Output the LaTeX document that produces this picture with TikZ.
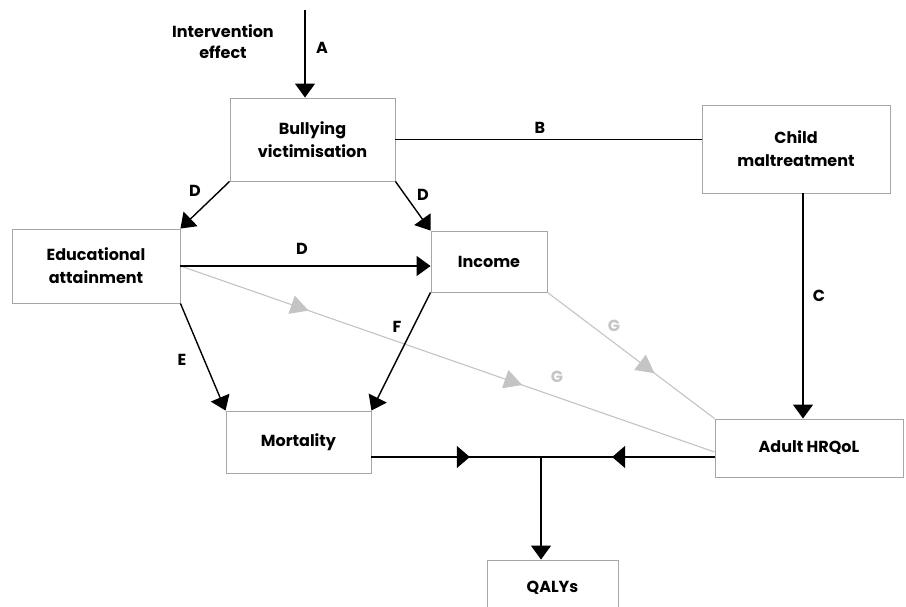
\documentclass[tikz,border=0pt]{standalone}
\usepackage{fontspec}
\setmainfont{Poppins}
\usetikzlibrary{arrows.meta,decorations.markings}
\definecolor{boxgray}{HTML}{A6A6A6}
\definecolor{linegray}{HTML}{C4C4C4}
\tikzset{
  gtip/.tip={Triangle[width=19pt,length=18pt,color=linegray]},
  btip/.tip={Triangle[width=22pt,length=13pt]}
}
\begin{document}
\begin{tikzpicture}[x=1pt,y=-1pt,
  box/.style={draw=boxgray,line width=0.9pt,inner sep=0pt,align=center,
    font=\fontsize{16}{23}\selectfont\bfseries},
  lbl/.style={font=\fontsize{16}{19}\selectfont\bfseries,inner sep=0pt},
  glbl/.style={lbl,text=linegray},
  conn/.style={line width=1.4pt,-{Triangle[width=20pt,length=14pt]}},
  plain/.style={line width=1.4pt},
  gconn/.style={line width=1.1pt,draw=linegray}
]
\useasboundingbox (0,0) rectangle (906,607);
\fill[white] (0,0) rectangle (906,607);

\node[box,minimum width=165pt,minimum height=83pt] (bull) at (312.5,139.5) {Bullying\\victimisation};
\node[box,minimum width=188pt,minimum height=88pt] (cm) at (796,149) {Child\\maltreatment};
\node[box,minimum width=168pt,minimum height=74pt] (edu) at (96,266) {Educational\\attainment};
\node[box,minimum width=116pt,minimum height=61pt] (inc) at (489,261.5) {Income};
\node[box,minimum width=145pt,minimum height=62pt] (mort) at (298.5,442) {Mortality};
\node[box,minimum width=188pt,minimum height=58pt] (hr) at (809,448) {Adult HRQoL};
\node[box,minimum width=131pt,minimum height=56pt] (q) at (552.5,588) {QALYs};

\node[lbl,align=center,font=\fontsize{16}{21}\selectfont\bfseries] (ie) at (223,42) {Intervention\\effect};

\coordinate (atop) at (305,10);
\coordinate (cx) at (803,0);
\coordinate (j) at (541,457);
\coordinate (hy) at (0,452);

% gray paths
\draw[gconn,postaction={decorate},decoration={markings,
  mark=at position 0.24 with {\arrow{gtip}},
  mark=at position 0.64 with {\arrow{gtip}}}] (edu.east) -- (hr.west |- hy);
\draw[gconn,postaction={decorate},decoration={markings,
  mark=at position 0.64 with {\arrow{gtip}}}] (inc.south east) -- (hr.north west);

% black connectors
\draw[conn] (atop) -- (atop |- bull.north);
\draw[plain] (bull.east) -- (bull.east -| cm.west);
\draw[conn] (cm.south -| cx) -- (hr.north -| cx);
\draw[conn] (bull.south west) -- (edu.north east);
\draw[conn] (bull.south east) -- (inc.north west);
\draw[conn] (edu.east) -- (edu.east -| inc.west);
\draw[conn] (edu.south east) -- (mort.north west);
\draw[conn] (inc.south west) -- (mort.north east);

\draw[plain,postaction={decorate},decoration={markings,
  mark=at position 0.58 with {\arrow{btip}}}] (mort.east |- j) -- (j);
\draw[plain,postaction={decorate},decoration={markings,
  mark=at position 0.59 with {\arrow{btip}}}] (hr.west |- j) -- (j);
\draw[conn] (j) -- (j |- q.north);

% labels
\node[lbl] (la) at (322,48) {A};
\node[lbl] (lb) at (540,128) {B};
\node[lbl] (lc) at (819,296) {C};
\node[lbl] (ld1) at (195,191) {D};
\node[lbl] (ld2) at (423,195) {D};
\node[lbl] (ld3) at (302,249) {D};
\node[lbl] (le) at (182,360) {E};
\node[lbl] (lf) at (397,327) {F};
\node[glbl] (lg1) at (614,326) {G};
\node[glbl] (lg2) at (557,377) {G};
\end{tikzpicture}
\end{document}
